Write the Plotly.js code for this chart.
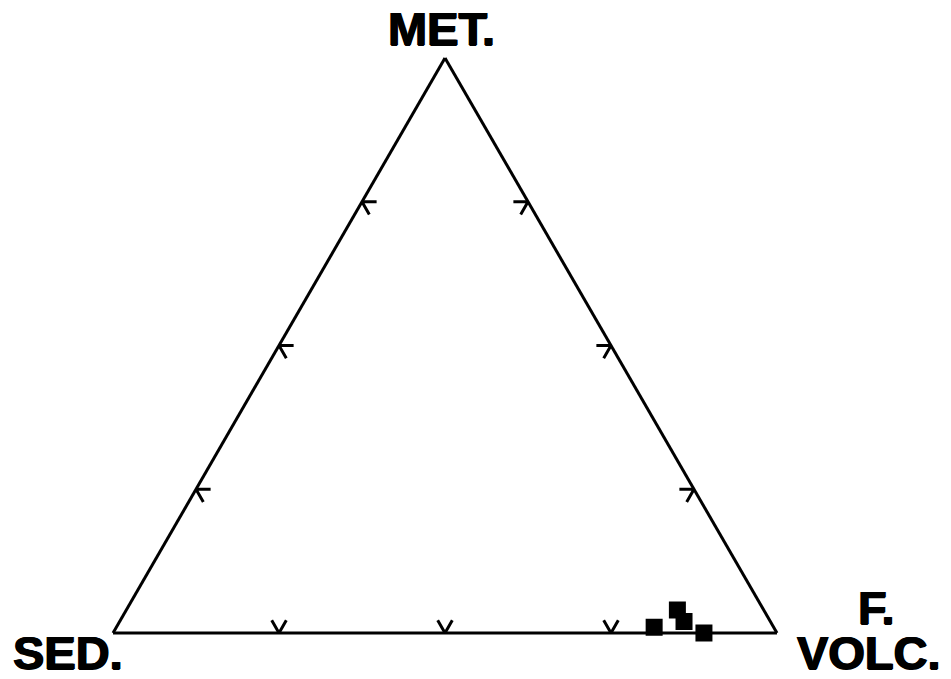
<!DOCTYPE html>
<html>
<head>
<meta charset="utf-8">
<script src="https://cdn.plot.ly/plotly-3.0.1.min.js"></script>
<style>
  html, body { margin: 0; padding: 0; background: #fff; }
  #chart { width: 951px; height: 679px; }
</style>
</head>
<body>
<div id="chart"></div>
<script>
// Sample compositions (percent): MET. / SED. / F. VOLC.
var metPct  = [1, 4, 2, 0];
var sedPct  = [18, 13, 13, 11];
var volcPct = [81, 83, 85, 89];

// Grid-direction tick marks drawn on every side of the triangle
var tickValues = [25, 50, 75];
var tickArm = 2.2;

// Vertex labels
var vertexLabels = ['MET.', 'SED.', 'F.', 'VOLC.'];

var traces = [];

function chevron(pts) {
  traces.push({
    type: 'scatterternary',
    mode: 'lines',
    a: pts.map(function (p) { return p[0]; }),
    b: pts.map(function (p) { return p[1]; }),
    c: pts.map(function (p) { return p[2]; }),
    line: { color: '#000', width: 3 },
    cliponaxis: false,
    hoverinfo: 'skip',
    showlegend: false
  });
}

tickValues.forEach(function (t) {
  var d = tickArm;
  // left side (c = 0): along constant a and constant b
  chevron([[t, 100 - t - d, d], [t, 100 - t, 0], [t - d, 100 - t, d]]);
  // right side (b = 0): along constant a and constant c
  chevron([[t, d, 100 - t - d], [t, 0, 100 - t], [t - d, d, 100 - t]]);
  // bottom side (a = 0): along constant b and constant c
  chevron([[d, 100 - t, t - d], [0, 100 - t, t], [d, 100 - t - d, t]]);
});

traces.push({
  type: 'scatterternary',
  mode: 'markers',
  a: metPct,
  b: sedPct,
  c: volcPct,
  marker: { symbol: 'square', size: 17, color: '#000', line: { width: 0 } },
  cliponaxis: false,
  hoverinfo: 'skip',
  showlegend: false
});

var axisStyle = {
  min: 0,
  showline: true,
  linewidth: 3,
  linecolor: '#000',
  showgrid: false,
  showticklabels: false,
  ticks: '',
  title: { text: '' }
};

var labelFont = {
  family: 'Liberation Sans, Arial, sans-serif', size: 47, color: '#000', weight: 'bold',
  shadow: '0.8px 0 0 #000, -0.8px 0 0 #000, 0 0.6px 0 #000'
};

// plot-area geometry, used to place the vertex labels in paper units
var plotLeft = 113, plotRight = 777, plotTop = 58, plotBottom = 633;
function paperX(x) { return (x - plotLeft) / (plotRight - plotLeft); }
function paperY(y) { return (plotBottom - y) / (plotBottom - plotTop); }

function label(text, x, y) {
  return {
    text: '<b>' + text + '</b>', xref: 'paper', yref: 'paper',
    x: paperX(x), y: paperY(y), xanchor: 'center', yanchor: 'middle',
    borderpad: 0, showarrow: false, font: labelFont
  };
}

var layout = {
  width: 951,
  height: 679,
  margin: { l: plotLeft, r: 951 - plotRight, t: plotTop, b: 679 - plotBottom, pad: 0 },
  paper_bgcolor: '#fff',
  plot_bgcolor: '#fff',
  showlegend: false,
  ternary: {
    sum: 100,
    bgcolor: '#fff',
    domain: { x: [0, 1], y: [0, 1] },
    aaxis: axisStyle,
    baxis: axisStyle,
    caxis: axisStyle
  },
  annotations: [
    label(vertexLabels[0], 441, 28),
    label(vertexLabels[1], 68, 652),
    label(vertexLabels[2], 876, 607),
    label(vertexLabels[3], 869, 652)
  ]
};

Plotly.newPlot('chart', traces, layout, { displayModeBar: false, staticPlot: true });
</script>
</body>
</html>
